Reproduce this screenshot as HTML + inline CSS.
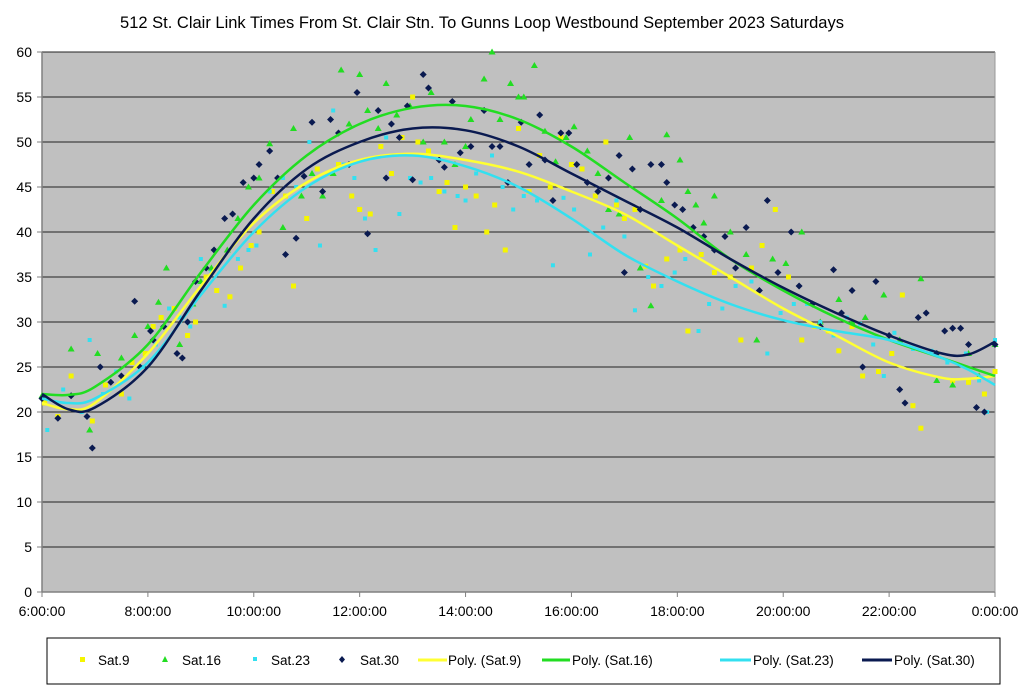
<!DOCTYPE html>
<html><head><meta charset="utf-8"><style>
body{margin:0;background:#fff;}
svg text{font-family:"Liberation Sans",Arial,sans-serif;}
</style></head><body>
<svg id="chart" width="1024" height="693" viewBox="0 0 1024 693" xmlns="http://www.w3.org/2000/svg">
<rect width="1024" height="693" fill="#fff"/>
<text x="482" y="28" font-size="16.5" text-anchor="middle">512 St. Clair Link Times From St. Clair Stn. To Gunns Loop Westbound September 2023  Saturdays</text>
<rect x="42" y="52" width="953" height="540" fill="#c0c0c0"/>
<g id="grid"></g><g id="axes"></g><g id="marks"></g><g id="trends"></g>
<g>
<rect x="47" y="638" width="953" height="46" fill="#fff" stroke="#000" stroke-width="1"/>
<rect x="80" y="657" width="5" height="5" fill="#f5f500"/>
<text x="98" y="665" font-size="13.5">Sat.9</text>
<polygon points="165,656 168,662 162,662" fill="#22dd22"/>
<text x="182" y="665" font-size="13.5">Sat.16</text>
<rect x="253" y="657" width="4" height="4" fill="#33e0f0"/>
<text x="271" y="665" font-size="13.5">Sat.23</text>
<polygon points="342,656 345,659.5 342,663 339,659.5" fill="#0a1a50"/>
<text x="360" y="665" font-size="13.5">Sat.30</text>
<line x1="418" y1="660" x2="447" y2="660" stroke="#ffff33" stroke-width="3"/>
<text x="448" y="665" font-size="13.5">Poly. (Sat.9)</text>
<line x1="542" y1="660" x2="570" y2="660" stroke="#22dd22" stroke-width="3"/>
<text x="572" y="665" font-size="13.5">Poly. (Sat.16)</text>
<line x1="720" y1="660" x2="751" y2="660" stroke="#33e0f0" stroke-width="3"/>
<text x="753" y="665" font-size="13.5">Poly. (Sat.23)</text>
<line x1="862" y1="660" x2="892" y2="660" stroke="#0a1a50" stroke-width="3"/>
<text x="894" y="665" font-size="13.5">Poly. (Sat.30)</text>
</g>
</svg>
<script>
const yTicks=[0,5,10,15,20,25,30,35,40,45,50,55,60];
const xTicks=[6,8,10,12,14,16,18,20,22,24];
const xTickLabels=["6:00:00","8:00:00","10:00:00","12:00:00","14:00:00","16:00:00","18:00:00","20:00:00","22:00:00","0:00:00"];

const sat9H=[6.05,6.3,6.55,6.95,7.2,7.5,7.7,7.95,8.1,8.25,8.5,8.75,8.9,9.1,9.3,9.55,9.75,9.95,10.1,10.35,10.6,10.75,11.0,11.2,11.4,11.6,11.85,12.0,12.2,12.4,12.6,12.8,13.0,13.1,13.3,13.5,13.65,13.8,14.0,14.2,14.4,14.55,14.75,15.0,15.2,15.4,15.6,15.8,16.0,16.2,16.45,16.65,16.85,17.0,17.2,17.4,17.55,17.8,18.05,18.2,18.45,18.7,19.0,19.2,19.4,19.6,19.85,20.1,20.35,20.6,20.85,21.05,21.3,21.5,21.8,22.05,22.25,22.45,22.6,22.9,23.2,23.5,23.8,24.0];
const sat9V=[21,19.5,24,19,23,22,25.5,26.5,29.5,30.5,31.5,28.5,30,35,33.5,32.8,36,38.5,40,44.5,44,34,41.5,47,46.5,47.5,44,42.5,42,49.5,46.5,50.5,55,50,49,44.5,45.5,40.5,45,44,40,43,38,51.5,44.5,48.5,45,50.5,47.5,47,44,50,43,41.5,42.5,36.2,34,37,38,29,37.5,35.5,35,28,36,38.5,42.5,35,28,29.5,29,26.8,29.5,24,24.5,26.5,33,20.7,18.2,26.5,23.5,23.3,22,24.5];

const sat16H=[6.0,6.55,6.9,7.05,7.5,7.75,8.0,8.2,8.35,8.6,8.85,9.0,9.2,9.5,9.7,9.9,10.1,10.3,10.55,10.75,10.9,11.1,11.3,11.5,11.65,11.8,12.0,12.15,12.35,12.5,12.7,12.95,13.2,13.35,13.6,13.8,14.0,14.1,14.35,14.5,14.65,14.85,15.0,15.1,15.3,15.5,15.7,15.9,16.05,16.3,16.5,16.7,16.9,17.1,17.3,17.5,17.7,17.8,18.05,18.2,18.35,18.5,18.7,19.0,19.3,19.5,19.8,20.05,20.35,20.7,21.05,21.3,21.55,21.9,22.2,22.6,22.9,23.2,23.5,23.7,24.0];
const sat16V=[21.8,27,18,26.5,26,28.5,29.5,32.2,36,27.5,32,34.5,36,38,41.5,45,46,49.8,40.5,51.5,44,46.5,44,46.5,58,52,57.5,53.5,51.5,56.5,53,54,50,55.5,50,47.5,49.5,52.5,57,60,52.5,56.5,55,55,58.5,51.2,47.8,50.5,51.7,49,46.5,42.5,42,50.5,36,31.8,43.5,50.8,48,44.5,43,41,44,40,37.5,28,37,36.5,40,30,32.5,30,30.5,33,28,34.8,23.5,23,26.5,24,27.5];

const sat23H=[6.1,6.4,6.75,6.9,7.15,7.4,7.65,7.9,8.15,8.4,8.6,8.8,9.0,9.2,9.45,9.7,9.9,10.05,10.3,10.55,10.8,11.05,11.25,11.5,11.7,11.9,12.1,12.3,12.5,12.75,12.95,13.15,13.35,13.6,13.85,14.0,14.2,14.5,14.7,14.9,15.1,15.35,15.65,15.85,16.05,16.35,16.6,16.85,17.0,17.2,17.45,17.7,17.95,18.15,18.4,18.6,18.85,19.1,19.4,19.7,19.95,20.2,20.45,20.7,20.95,21.2,21.45,21.7,21.9,22.1,22.45,22.8,23.1,23.45,23.7,23.85,24.0];
const sat23V=[18,22.5,20,28,22,24.5,21.5,25,27.5,31.5,30.5,29.5,37,35.5,31.8,37,38,38.5,44.5,46,45,50,38.5,53.5,47.5,46,41.5,38,50.5,42,46,45.5,46,44.5,44,43.5,46.5,48.5,45,42.5,44,43.5,36.3,43.8,42.5,37.5,40.5,43.5,39.5,31.3,35,34,35.5,37,29,32,31.5,34,34.5,26.5,31,32,32,30,28.5,30.5,29.8,27.5,24,28.8,27,26.8,25.5,26.5,23.5,20,28];

const sat30H=[6.0,6.3,6.55,6.85,6.95,7.1,7.3,7.5,7.75,7.85,8.05,8.1,8.3,8.55,8.65,8.75,8.9,9.1,9.25,9.45,9.6,9.8,10.0,10.1,10.3,10.45,10.6,10.8,10.95,11.1,11.3,11.45,11.6,11.8,11.95,12.15,12.35,12.5,12.6,12.75,12.9,13.0,13.2,13.3,13.5,13.6,13.75,13.9,14.1,14.35,14.5,14.65,14.8,15.05,15.2,15.4,15.5,15.65,15.8,15.95,16.1,16.3,16.5,16.7,16.9,17.0,17.15,17.3,17.5,17.7,17.8,17.95,18.1,18.3,18.5,18.7,18.9,19.1,19.3,19.55,19.7,19.9,20.15,20.3,20.55,20.7,20.95,21.1,21.3,21.5,21.75,22.0,22.2,22.3,22.55,22.7,22.9,23.05,23.2,23.35,23.5,23.65,23.8,24.0];
const sat30V=[21.5,19.3,21.8,19.5,16,25,23.3,24,32.3,25,29,28,29.5,26.5,26,30,34.5,36,38,41.5,42,45.5,46,47.5,49,46,37.5,39.3,46.2,52.2,44.5,52.5,51,47.5,55.5,39.8,53.5,46,52,50.5,54,45.8,57.5,56,48,47.2,54.5,48.8,49.5,53.5,49.5,49.5,45.5,52.2,47.5,53,48,43.5,51,51,47.5,45.5,44.5,46,48.5,35.5,47,42.5,47.5,47.5,45.5,43,42.5,40.5,39.5,38,39.5,36,40.5,33.5,43.5,35.5,40,34,32,29.5,35.8,31,33.5,25,34.5,28.5,22.5,21,30.5,31,26.5,29,29.3,29.3,27.5,20.5,20,27.5];

const trendH=[6,6.5,7,8,9,10,11,12,13,14,15,16,17,18,19,20,21,22,23,23.5,24];
const poly9=[21,20.3,21,26.5,34,41,45.5,48,48.7,48,46.7,44.5,42,38.5,35,31.5,28.5,25.5,23.8,23.7,24];
const poly16=[22,21.9,22.8,27.5,35.5,43,48.5,52,53.8,54,52.5,49.5,45.5,41.5,37,33.5,30.5,28,26,25,24];
const poly23=[21.5,21,21.5,25.5,33,40,45,47.8,48.5,47.3,45,41.5,37.5,34.5,32,30.2,29,28,26,24.7,23];
const poly30=[22,20.3,20.5,25,33.5,41.5,47,50,51.5,51.3,49.5,46.5,43.5,40.5,37,33.8,31,28.5,26.5,26.4,27.8];

const X0=42,X1=995,Y0=592,Y1=52;
const xs=h=>X0+(h-6)/18*(X1-X0);
const ys=v=>Y0-v/60*(Y0-Y1);
const NS="http://www.w3.org/2000/svg";
function mk(tag,parent,attrs){const e=document.createElementNS(NS,tag);for(const k in attrs)e.setAttribute(k,attrs[k]);parent.appendChild(e);return e;}
const grid=document.getElementById('grid'),axes=document.getElementById('axes'),marks=document.getElementById('marks'),trends=document.getElementById('trends');

yTicks.forEach(v=>{
  if(v>0){const l=mk('line',grid,{x1:X0,x2:X1,y1:ys(v),y2:ys(v),stroke:'#222','stroke-width':1});
  
  }
  const t=mk('text',axes,{x:X0-10,y:ys(v)+5,'font-size':14,'text-anchor':'end'});t.textContent=v;
  
  
  mk('line',axes,{x1:X0-5,x2:X0,y1:ys(v),y2:ys(v),stroke:'#808080'});
});
xTicks.forEach((h,i)=>{
  const t=mk('text',axes,{x:xs(h),y:Y0+24,'font-size':14,'text-anchor':'middle'});t.textContent=xTickLabels[i];
  
  
  mk('line',axes,{x1:xs(h),x2:xs(h),y1:Y0,y2:Y0+5,stroke:'#808080'});
});
mk('line',axes,{x1:X0,x2:X0,y1:Y1,y2:Y0,stroke:'#808080','stroke-width':1.5});
mk('line',axes,{x1:X0,x2:X1,y1:Y0,y2:Y0,stroke:'#808080','stroke-width':1.5});
mk('line',axes,{x1:X1,x2:X1,y1:Y1,y2:Y0,stroke:'#999','stroke-width':1});

function scatter(H,V,kind,color,name){
  H.forEach((h,i)=>{
    const x=xs(h),y=ys(V[i]);let e;
    if(kind==='sq')e=mk('rect',marks,{x:x-2.5,y:y-2.5,width:5,height:5,fill:color});
    else if(kind==='sqs')e=mk('rect',marks,{x:x-2,y:y-2,width:4,height:4,fill:color});
    else if(kind==='tri')e=mk('polygon',marks,{points:`${x},${y-3.5} ${x+3.5},${y+2.5} ${x-3.5},${y+2.5}`,fill:color});
    else e=mk('polygon',marks,{points:`${x},${y-3.5} ${x+3.5},${y} ${x},${y+3.5} ${x-3.5},${y}`,fill:color});
    
    
  });
}
scatter(sat9H,sat9V,'sq','#f5f500','point-sat9');
scatter(sat16H,sat16V,'tri','#22dd22','point-sat16');
scatter(sat23H,sat23V,'sqs','#33e0f0','point-sat23');
scatter(sat30H,sat30V,'dia','#0a1a50','point-sat30');

function smooth(H,V){
  const P=H.map((h,i)=>[xs(h),ys(V[i])]);
  let d=`M${P[0][0]},${P[0][1]}`;
  for(let i=0;i<P.length-1;i++){
    const p0=P[i-1]||P[i],p1=P[i],p2=P[i+1],p3=P[i+2]||P[i+1];
    const c1=[p1[0]+(p2[0]-p0[0])/6,p1[1]+(p2[1]-p0[1])/6];
    const c2=[p2[0]-(p3[0]-p1[0])/6,p2[1]-(p3[1]-p1[1])/6];
    d+=` C${c1[0]},${c1[1]} ${c2[0]},${c2[1]} ${p2[0]},${p2[1]}`;
  }
  return d;
}
[[poly9,'#ffff33','trend-poly-sat9'],[poly16,'#22dd22','trend-poly-sat16'],[poly23,'#33e0f0','trend-poly-sat23'],[poly30,'#0a1a50','trend-poly-sat30']].forEach(([V,c,n])=>{
  const p=mk('path',trends,{d:smooth(trendH,V),fill:'none',stroke:c,'stroke-width':2.5});
  
  
});
</script>
</body></html>
